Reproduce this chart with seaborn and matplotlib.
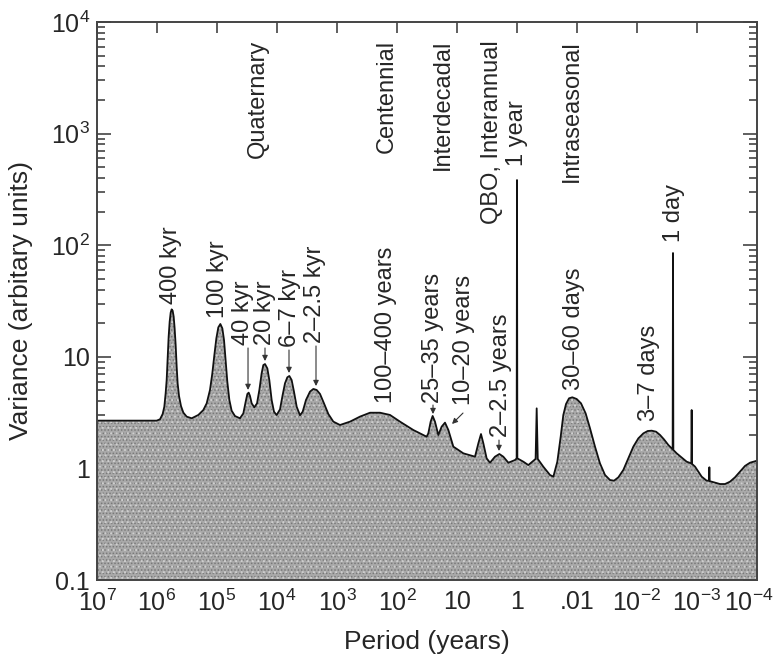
"""
Variance spectrum of climate variability over periods from 10^7 to 10^-4 years.
"""
import matplotlib

matplotlib.use("Agg")
import matplotlib.pyplot as plt
import matplotlib.transforms as mtransforms
import numpy as np
import seaborn as sns

# Curve: log10(period in years), log10(variance)
log_period = [
    7.0, 6.006, 5.95, 5.906, 5.878, 5.856, 5.839, 5.822, 5.806, 5.789, 5.772,
    5.756, 5.739, 5.722, 5.706, 5.689, 5.672, 5.656, 5.633, 5.6, 5.561, 5.506,
    5.422, 5.311, 5.228, 5.172, 5.117, 5.078, 5.044, 5.011, 4.978, 4.944,
    4.911, 4.883, 4.856, 4.828, 4.794, 4.756, 4.7, 4.617, 4.561, 4.522, 4.494,
    4.472, 4.45, 4.422, 4.378, 4.333, 4.294, 4.256, 4.228, 4.2, 4.161, 4.128,
    4.089, 4.05, 4.006, 3.95, 3.906, 3.867, 3.828, 3.794, 3.756, 3.717, 3.672,
    3.617, 3.572, 3.517, 3.45, 3.394, 3.339, 3.283, 3.217, 3.144, 3.061, 2.95,
    2.783, 2.617, 2.45, 2.283, 2.117, 1.95, 1.728, 1.506, 1.478, 1.439, 1.406,
    1.367, 1.311, 1.256, 1.2, 1.144, 1.061, 0.894, 0.7, 0.644, 0.6, 0.561,
    0.506, 0.45, 0.367, 0.294, 0.228, 0.144, 0.033, 0.006, 0.0, -0.006, -0.106,
    -0.189, -0.31, -0.328, -0.346, -0.439, -0.55, -0.606, -0.672, -0.728,
    -0.772, -0.817, -0.867, -0.922, -0.994, -1.067, -1.144, -1.217, -1.3,
    -1.383, -1.467, -1.55, -1.617, -1.689, -1.772, -1.856, -1.939, -2.022,
    -2.106, -2.178, -2.245, -2.317, -2.383, -2.45, -2.522, -2.583, -2.594,
    -2.6, -2.606, -2.661, -2.828, -2.905, -2.911, -2.917, -2.967, -3.078,
    -3.161, -3.2, -3.206, -3.212, -3.244, -3.383, -3.467, -3.55, -3.633,
    -3.717, -3.8, -3.883, -4.0,
]
log_variance = [
    0.428, 0.428, 0.44, 0.487, 0.553, 0.673, 0.792, 1.001, 1.18, 1.315, 1.396,
    1.425, 1.413, 1.36, 1.255, 1.106, 0.912, 0.762, 0.649, 0.559, 0.5, 0.464,
    0.449, 0.479, 0.523, 0.583, 0.703, 0.852, 1.016, 1.165, 1.264, 1.294,
    1.255, 1.15, 0.971, 0.777, 0.613, 0.517, 0.469, 0.449, 0.493, 0.598, 0.667,
    0.679, 0.649, 0.583, 0.547, 0.583, 0.703, 0.852, 0.926, 0.935, 0.896, 0.792,
    0.613, 0.508, 0.478, 0.529, 0.658, 0.762, 0.816, 0.828, 0.792, 0.688, 0.553,
    0.476, 0.508, 0.613, 0.688, 0.712, 0.703, 0.667, 0.583, 0.487, 0.419, 0.389,
    0.419, 0.464, 0.499, 0.499, 0.479, 0.419, 0.344, 0.284, 0.314, 0.419, 0.47,
    0.419, 0.299, 0.374, 0.41, 0.344, 0.195, 0.135, 0.105, 0.225, 0.308, 0.225,
    0.09, 0.051, 0.105, 0.129, 0.105, 0.051, 0.075, 0.09, 2.584, 0.09, 0.06,
    0.03, 0.085, 0.538, 0.085, 0.015, -0.059, -0.074, 0.06, 0.284,
    0.479, 0.577, 0.628, 0.637, 0.622, 0.583, 0.493, 0.359, 0.195,
    0.045, -0.059, -0.104, -0.11, -0.08, -0.014, 0.09, 0.195, 0.269,
    0.314, 0.335, 0.338, 0.329, 0.3, 0.26, 0.21, 0.177, 0.171,
    1.93, 0.165, 0.135, 0.06, 0.045, 0.523, 0.04, 0.016, -0.074,
    -0.11, -0.11, 0.01, -0.115, -0.119, -0.14, -0.14, -0.119, -0.08,
    -0.029, 0.022, 0.051, 0.069,
]

period = 10 ** np.array(log_period)
variance = 10 ** np.array(log_variance)

x_ticks = [1e7, 1e6, 1e5, 1e4, 1e3, 1e2, 1e1, 1e0, 1e-1, 1e-2, 1e-3, 1e-4]
x_tick_labels = [
    "$10^7$", "$10^6$", "$10^5$", "$10^4$", "$10^3$", "$10^2$", "10", "1",
    ".01", "$10^{-2}$", "$10^{-3}$", "$10^{-4}$",
]
y_ticks = [0.1, 1, 10, 100, 1000, 10000]
y_tick_labels = ["0.1", "1", "10", "$10^2$", "$10^3$", "$10^4$"]

# Regime names written from the top of the plot
regime_labels = ["Quaternary", "Centennial", "Interdecadal", "QBO, Interannual", "Intraseasonal"]
regime_log_period = [4.317, 2.167, 1.233, 0.417, -0.917]

# Peak names: text position (log period, log variance of text bottom)
peak_labels = [
    "400 kyr", "100 kyr", "40 kyr", "20 kyr", "6\u20137 kyr", "2\u20132.5 kyr",
    "100\u2013400 years", "25\u201335 years", "10\u201320 years", "2\u20132.5 years",
    "30\u201360 days", "3\u20137 days", "1 year", "1 day",
]
peak_text_log_period = [
    5.767, 4.983, 4.567, 4.2, 3.783, 3.367, 2.183, 1.4, 0.883, 0.267,
    -0.95, -2.2, 0.0, -2.62,
]
peak_text_log_variance = [
    1.47, 1.348, 1.106, 1.106, 1.088, 1.124, 0.586, 0.586, 0.568, 0.281,
    0.703, 0.425, 2.71, 2.029,
]

# Arrows: start (log period, log variance) -> end
arrow_start = [(4.483, 1.079), (4.2, 1.079), (3.8, 1.061), (3.35, 1.097),
               (1.4, 0.568), (0.9, 0.496), (0.3, 0.254)]
arrow_end = [(4.483, 0.703), (4.2, 0.962), (3.8, 0.855), (3.35, 0.738),
             (1.4, 0.487), (1.083, 0.398), (0.3, 0.156)]

sns.set_style("ticks")
plt.rcParams["font.family"] = ["Liberation Sans", "DejaVu Sans"]
plt.rcParams["mathtext.fontset"] = "custom"
plt.rcParams["mathtext.rm"] = "Liberation Sans"
plt.rcParams["mathtext.it"] = "Liberation Sans:italic"
plt.rcParams["hatch.linewidth"] = 0.7

fig = plt.figure(figsize=(7.8, 6.6), dpi=100)
ax = fig.add_axes([97 / 780, 80 / 660, 660 / 780, 558 / 660])
ax.set_xscale("log")
ax.set_yscale("log")

# Speckled grey fill under the spectrum
ax.fill_between(period, 0.01, variance, facecolor="#a9a9a9", edgecolor="#787878",
                hatch=".....", linewidth=0)
ax.fill_between(period, 0.01, variance, facecolor="none", edgecolor="#cfcfcf",
                hatch="...", linewidth=0)
sns.lineplot(x=period, y=variance, ax=ax, color="#111111", linewidth=1.3,
             sort=False, estimator=None)

ax.set_xlim(1e7, 1e-4)
ax.set_ylim(0.1, 1e4)

ax.set_xticks(x_ticks)
ax.set_xticklabels(x_tick_labels)
ax.xaxis.set_minor_locator(matplotlib.ticker.NullLocator())
ax.set_yticks(y_ticks)
ax.set_yticklabels(y_tick_labels)
ax.yaxis.set_minor_locator(matplotlib.ticker.LogLocator(base=10, subs=np.arange(2, 10)))
ax.yaxis.set_minor_formatter(matplotlib.ticker.NullFormatter())

ax.tick_params(which="both", direction="in", top=True, right=True,
               labelsize=18, color="#444444", width=1.2)
ax.tick_params(axis="x", which="major", length=8, pad=7)
ax.tick_params(axis="y", which="major", length=10, pad=5)
ax.tick_params(axis="y", which="minor", length=6)

# Nudge the last x tick label so it stays inside the figure
last_label = ax.get_xticklabels()[-1]
last_label.set_transform(last_label.get_transform()
                         + mtransforms.ScaledTranslation(-6 / 72, 0, fig.dpi_scale_trans))

for spine in ax.spines.values():
    spine.set_color("#444444")
    spine.set_linewidth(1.4)

ax.set_xlabel("Period (years)", fontsize=19)
ax.set_ylabel("Variance (arbitary units)", fontsize=19)
ax.xaxis.set_label_coords(0.5, -0.09)
ax.yaxis.set_label_coords(-0.097, 0.5)

for name, lp in zip(regime_labels, regime_log_period):
    ax.text(10 ** lp, 10 ** 3.84, name, rotation=90, ha="center", va="top",
            fontsize=17)

for name, lp, lv in zip(peak_labels, peak_text_log_period, peak_text_log_variance):
    ax.text(10 ** lp, 10 ** lv, name, rotation=90, ha="center", va="bottom",
            fontsize=17)

for (sp, sv), (ep, ev) in zip(arrow_start, arrow_end):
    ax.annotate("", xy=(10 ** ep, 10 ** ev), xytext=(10 ** sp, 10 ** sv),
                arrowprops=dict(arrowstyle="-|>", color="#333333", lw=0.8,
                                mutation_scale=8, shrinkA=0, shrinkB=0))

fig.savefig("out.png", dpi=100)
